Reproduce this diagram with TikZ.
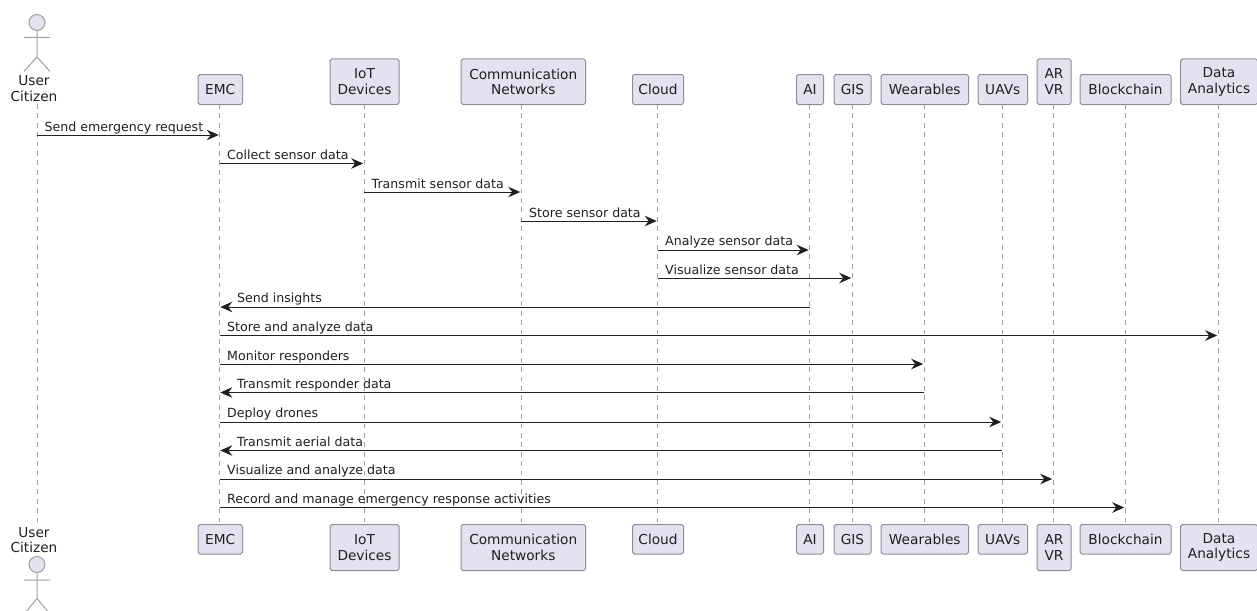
\documentclass[tikz,border=0pt]{standalone}
\usepackage{fontspec}
\setmainfont{DejaVu Sans}
\usetikzlibrary{arrows.meta}
\definecolor{pfill}{HTML}{E2E2F0}
\definecolor{pline}{HTML}{8E8E9A}
\definecolor{lline}{HTML}{A0A0A0}
\definecolor{ink}{HTML}{1F1F1F}
\tikzset{
 x=1pt,y=-1pt,
 part/.style={draw=pline,fill=pfill,rounded corners=1.8pt,line width=1pt,inner sep=0,align=center,font=\fontsize{13.7}{15.6}\selectfont,text=ink},
 actorlabel/.style={inner sep=0,align=center,font=\fontsize{13.7}{15.8}\selectfont,text=ink},
 actorline/.style={draw=lline,line width=1pt},
 headshape/.style={draw=lline,fill=pfill,circle,inner sep=0,minimum size=16pt,line width=1pt},
 lifeline/.style={draw=lline,line width=0.9pt,dash pattern=on 4.7pt off 4.7pt},
 msg/.style={draw=ink,line width=1pt,shorten >=0.8pt,-{Stealth[length=12pt,width=10.5pt,inset=4pt]}},
 msgtext/.style={inner sep=0,anchor=base west,font=\fontsize{12.6}{14}\selectfont,text=ink},
}
\newcommand{\partbox}[7]{% name, left, right, top, bottom, text, (unused)
 \node[part,minimum width=#3pt-#2pt,minimum height=#5pt-#4pt,anchor=north west] (#1) at (#2,#4) {#6};}
\begin{document}
\begin{tikzpicture}
\useasboundingbox (0,0) rectangle (1257,610);
\clip (0,0) rectangle (1257,610);
% lifelines
\foreach \n/\xx in {u/37,e/219.5,i/364,c/521,l/657.5,a/809.5,g/852,w/924,v/1002,r/1053,b/1125,d/1218}{
 \coordinate (\n t) at (\xx,104);
 \coordinate (\n b) at (\xx,524);
 \draw[lifeline] (\n t) -- (\n b);
}
% top participants
\partbox{e1}{197.5}{242}{74}{104}{EMC}{}
\partbox{i1}{329.5}{398.5}{58.5}{104}{IoT\\Devices}{}
\partbox{c1}{460.5}{585}{58.5}{104}{Communication\\Networks}{}
\partbox{l1}{632}{683}{74}{104}{Cloud}{}
\partbox{a1}{796}{823}{74}{104}{AI}{}
\partbox{g1}{833.5}{870.5}{74}{104}{GIS}{}
\partbox{w1}{880.5}{968}{74}{104}{Wearables}{}
\partbox{v1}{977.5}{1027}{74}{104}{UAVs}{}
\partbox{r1}{1036.5}{1070.5}{58.5}{104}{AR\\VR}{}
\partbox{b1}{1079.5}{1170.5}{74}{104}{Blockchain}{}
\partbox{d1}{1180}{1257}{58.5}{104}{Data\\Analytics}{}
% bottom participants
\partbox{e2}{197.5}{242}{524}{553.5}{EMC}{}
\partbox{i2}{329.5}{398.5}{524}{570}{IoT\\Devices}{}
\partbox{c2}{460.5}{585}{524}{570}{Communication\\Networks}{}
\partbox{l2}{632}{683}{524}{553.5}{Cloud}{}
\partbox{a2}{796}{823}{524}{553.5}{AI}{}
\partbox{g2}{833.5}{870.5}{524}{553.5}{GIS}{}
\partbox{w2}{880.5}{968}{524}{553.5}{Wearables}{}
\partbox{v2}{977.5}{1027}{524}{553.5}{UAVs}{}
\partbox{r2}{1036.5}{1070.5}{524}{570}{AR\\VR}{}
\partbox{b2}{1079.5}{1170.5}{524}{553.5}{Blockchain}{}
\partbox{d2}{1180}{1257}{524}{570}{Data\\Analytics}{}
% top actor
\node[headshape] (h1) at (37,22.5) {};
\draw[actorline] (h1.south) -- (37,57) (24,37.5) -- (50,37.5) (24,71.5) -- (37,57) -- (50,71.5);
\node[actorlabel] (u1) at (34,89) {User\\Citizen};
% bottom actor
\node[actorlabel] (u2) at (34,540) {User\\Citizen};
\node[headshape] (h2) at (37,564.5) {};
\draw[actorline] (h2.south) -- (37,598.5) (24,580) -- (50,580) (24,614) -- (37,598.5) -- (50,614);
% messages
\newcommand{\msgline}[3]{% from, to, y
 \coordinate (mf) at (#1t |- 0,#3);
 \coordinate (mt) at (#2t |- 0,#3);
 \draw[msg] (mf) -- (mt);}
\msgline{u}{e}{135}
\msgline{e}{i}{163.5}
\msgline{i}{c}{192}
\msgline{c}{l}{221}
\msgline{l}{a}{250}
\msgline{l}{g}{278}
\msgline{a}{e}{307}
\msgline{e}{d}{335.5}
\msgline{e}{w}{364}
\msgline{w}{e}{392.5}
\msgline{e}{v}{422}
\msgline{v}{e}{450.5}
\msgline{e}{r}{479}
\msgline{e}{b}{507.5}
\foreach \n/\xx/\yy/\t in {m1/44.5/131/Send emergency request,m2/227/159.5/Collect sensor data,m3/371.5/188/Transmit sensor data,m4/529/217/Store sensor data,m5/665/245.5/Analyze sensor data,m6/665/274/Visualize sensor data,m7/237/302.5/Send insights,m8/227/331/Store and analyze data,m9/227/360/Monitor responders,m10/237/388.5/Transmit responder data,m11/227/417.5/Deploy drones,m12/237/446/Transmit aerial data,m13/227/474.5/Visualize and analyze data,m14/227/503/Record and manage emergency response activities}{
 \node[msgtext] (\n) at (\xx,\yy) {\t};
}
\end{tikzpicture}
\end{document}
